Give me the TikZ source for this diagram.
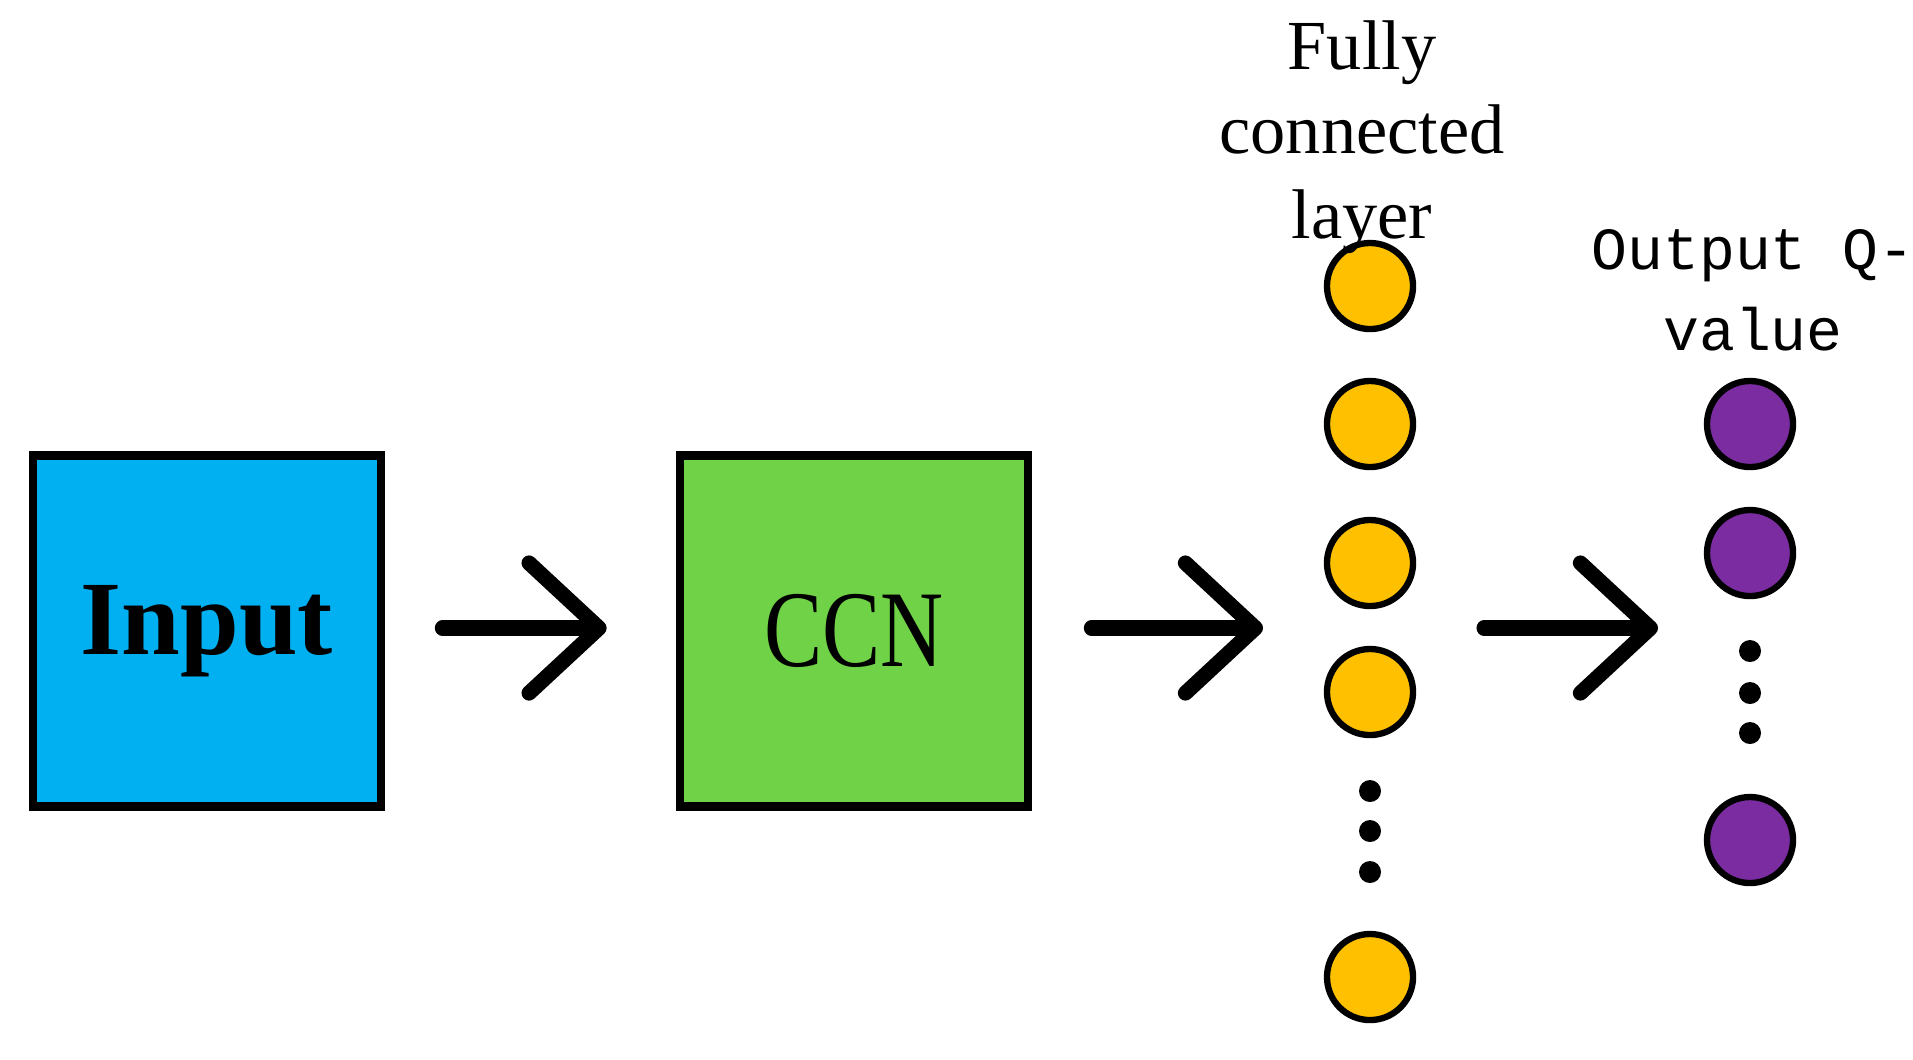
\documentclass[tikz,border=0pt]{standalone}
\usepackage{fontspec}
\setmainfont{Liberation Serif}
\newfontfamily\monofont{Liberation Mono}
\usetikzlibrary{arrows.meta,positioning}
\definecolor{inblue}{RGB}{0,176,240}
\definecolor{ccngreen}{RGB}{112,210,70}
\definecolor{fcyellow}{RGB}{255,192,0}
\definecolor{outpurple}{RGB}{122,44,160}
\begin{document}
\begin{tikzpicture}[x=0.01cm,y=-0.01cm,
box/.style={draw,line width=2.4pt,minimum width=3.48cm,minimum height=3.51cm,inner sep=0pt},
neuron/.style={circle,draw,line width=1.8pt,minimum size=0.86cm,inner sep=0pt},
dot/.style={circle,fill,minimum size=0.22cm,inner sep=0pt},
flow/.style={line width=4.3pt,line cap=round,-{Straight Barb[length=0.7cm,width=1.3cm,line cap=round,line join=round]}}]
\useasboundingbox (0,0) rectangle (1913,1059);
% blocks
\node (in) [box,fill=inblue,font=\fontsize{30}{36}\selectfont\bfseries] at (207,631) {Input};
\node (ccn) [box,fill=ccngreen,font=\fontsize{31}{36}\selectfont] at (854,631) {\scalebox{0.8}[1]{CCN}};
% fully connected layer
\foreach \y [count=\i] in {286,424,563,692,977}
  \node (fc\i) [neuron,fill=fcyellow] at (1370,\y) {};
\foreach \y [count=\i] in {791,831,872}
  \node (fcd\i) [dot] at (1370,\y) {};
\node (fclabel) [align=center,font=\fontsize{20}{24}\selectfont] at (1362,137) {Fully\\connected\\layer};
% output layer
\foreach \y [count=\i] in {424,553,840}
  \node (out\i) [neuron,fill=outpurple] at (1750,\y) {};
\foreach \y [count=\i] in {651,693,733}
  \node (outd\i) [dot] at (1750,\y) {};
\node (outlabel) [align=center,font=\monofont\fontsize{17}{23}\selectfont] at (1753,290) {Output Q-\\value};
% arrows
\coordinate (fcin) at (1263,628);
\coordinate (outin) at (1658,628);
\coordinate (fcout) at (1484,628);
\draw[flow,shorten <=0.57cm,shorten >=0.69cm] (in.east |- 0,628) -- (ccn.west |- 0,628);
\draw[flow,shorten <=0.59cm] (ccn.east |- 0,628) -- (fcin);
\draw[flow] (fcout) -- (outin);
\end{tikzpicture}
\end{document}
